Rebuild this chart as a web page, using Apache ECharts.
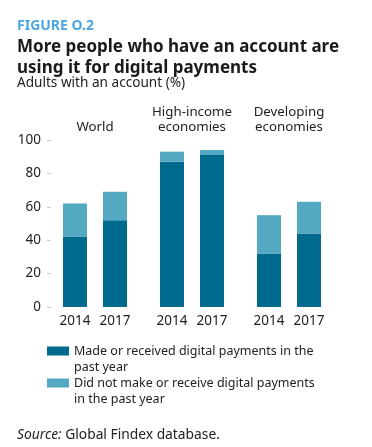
<!DOCTYPE html>
<html>
<head>
<meta charset="utf-8">
<script src="https://cdn.jsdelivr.net/npm/echarts@6/dist/echarts.min.js"></script>
<style>
html,body{margin:0;padding:0;background:#fff;}
#c{width:372px;height:447px;}
</style>
</head>
<body>
<div id="c"></div>
<script>
const years = ['2014', '2017'];
const groupNames = ['World', 'High-income\neconomies', 'Developing\neconomies'];
// order: World 2014, World 2017, High-income 2014, High-income 2017, Developing 2014, Developing 2017
const madeDigital = [42, 52, 87, 91, 32, 44];
const notDigital = [20, 17, 6, 3, 23, 19];
const seriesNames = ['Made or received digital payments in the\npast year', 'Did not make or receive digital payments\nin the past year'];
const yTicks = [0, 20, 40, 60, 80, 100];

const FONT = 'Noto Sans';
const DARK = '#006a8e';
const LIGHT = '#54a9c2';
const TXT = '#222222';

const gridLefts = [55, 152, 249];
const grids = gridLefts.map(l => ({left: l, width: 80, top: 140, height: 167}));

const xAxes = [];
const yAxes = [];
const series = [];
groupNames.forEach((g, i) => {
  xAxes.push({
    type: 'category', gridIndex: i, data: years, position: 'bottom',
    axisLine: {show: false}, axisTick: {show: false},
    axisLabel: {interval: 0, fontFamily: FONT, fontSize: 13.5, color: TXT, margin: 7}
  });
  xAxes.push({
    type: 'category', gridIndex: i, data: years, position: 'top',
    axisLine: {show: false}, axisTick: {show: false}, axisLabel: {show: false},
    name: g, nameLocation: 'middle', nameGap: 5,
    nameTextStyle: {fontFamily: FONT, fontSize: 13.3, color: TXT, lineHeight: 15}
  });
  yAxes.push({
    type: 'value', gridIndex: i, min: yTicks[0], max: yTicks[yTicks.length - 1], interval: 20,
    offset: 4,
    show: i === 0,
    splitLine: {show: false},
    axisLine: {show: false},
    axisTick: {show: i === 0, length: 4, lineStyle: {color: '#cccccc'}},
    axisLabel: {show: i === 0, fontFamily: FONT, fontSize: 13.5, color: TXT, margin: 10}
  });
  series.push({
    name: seriesNames[0], type: 'bar', stack: 's' + i, xAxisIndex: i * 2, yAxisIndex: i,
    barWidth: 24, itemStyle: {color: DARK},
    data: madeDigital.slice(i * 2, i * 2 + 2)
  });
  series.push({
    name: seriesNames[1], type: 'bar', stack: 's' + i, xAxisIndex: i * 2, yAxisIndex: i,
    barWidth: 24, itemStyle: {color: LIGHT},
    data: notDigital.slice(i * 2, i * 2 + 2)
  });
});

const legendCommon = {
  orient: 'vertical', left: 47, padding: 0, itemWidth: 22, itemHeight: 9, itemGap: 0,
  icon: 'rect', selectedMode: false,
  formatter: name => '\u00a0\n' + name,
  textStyle: {fontFamily: FONT, fontSize: 12.5, color: TXT, lineHeight: 16}
};

const option = {
  backgroundColor: '#ffffff',
  animation: false,
  title: [
    {text: 'FIGURE O.2', left: 12, top: 14,
     textStyle: {fontFamily: FONT, fontWeight: 'bold', fontSize: 14, color: '#4ba7dc'}},
    {text: 'More people who have an account are\nusing it for digital payments', left: 12, top: 32,
     textStyle: {fontFamily: FONT, fontWeight: 'bold', fontSize: 17, color: '#1a1a1a', lineHeight: 21}},
    {text: 'Adults with an account (%)', left: 12, top: 71,
     textStyle: {fontFamily: FONT, fontWeight: 'normal', fontSize: 13.6, color: TXT}},
    {text: '{i|Source:} Global Findex database.', left: 12, top: 423,
     textStyle: {fontFamily: FONT, fontWeight: 'normal', fontSize: 13.8, color: TXT,
       rich: {i: {fontFamily: FONT, fontStyle: 'italic', fontSize: 13.8, color: TXT}}}}
  ],
  legend: [
    Object.assign({}, legendCommon, {top: 327, data: [seriesNames[0]]}),
    Object.assign({}, legendCommon, {top: 359, data: [seriesNames[1]]})
  ],
  grid: grids,
  xAxis: xAxes,
  yAxis: yAxes,
  series: series
};

const chart = echarts.init(document.getElementById('c'), null, {renderer: 'canvas'});
chart.setOption(option);
</script>
</body>
</html>
